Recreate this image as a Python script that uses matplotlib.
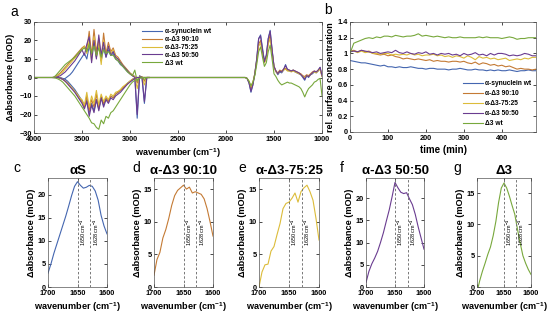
import numpy as np
import matplotlib
matplotlib.use('Agg')
import matplotlib.pyplot as plt

plt.rcParams['font.family'] = ['Liberation Sans', 'DejaVu Sans']
plt.rcParams['mathtext.fontset'] = 'custom'
plt.rcParams['mathtext.rm'] = 'Liberation Sans:bold'
plt.rcParams['mathtext.bf'] = 'Liberation Sans:bold'
plt.rcParams['mathtext.default'] = 'bf'

names = ['α-synuclein wt', 'α-Δ3 90:10', 'α-Δ3-75:25', 'α-Δ3 50:50', 'Δ3 wt']
colors = ['#4466b0', '#c47a34', '#dcbc3a', '#6a3c90', '#78a83c']

# ---- panel a: difference spectra ----
wn_left = [4000, 3900]
wn_oh = np.arange(3800, 2799, -25)
wn_mid = [2700, 2400, 2100, 1900]
wn_am = np.arange(1800, 999, -20)
flat_left = [0.0, 0.0]
flat_mid = [0.0, 0.0, 0.0, 0.0]

blue_oh = [0, 0, 0, -0.5, -1, -0.5, 0.5, 1.5, 3, 5, 7, 9, 11, 13, 10, 17, 12, 20, 11, 18, 9, 16, 11, 15, 12,
           13, 10, 9, 7, 6, 4.5, 3, 2, 1, 0.5, -22, 0.5, 0, -14, 0, 0]
orange_oh = [0, 0.5, 1.5, 2.5, 4, 5.5, 7, 8.5, 10, 11.5, 13, 14.5, 16, 17, 15, 25, 12, 26, 14, 21, 9, 24, 13, 19, 14,
             16, 12, 11, 9, 7, 5.5, 4, 2.5, 1.5, 0.5, -3, 0, 0.5, -2, 0, 0]
yellow_oh = [0, 0.3, 1, 2, 3, 4.5, 6, 7.5, 9, 10.5, 12, 13.5, 15, 17, 13, 20, 9, 22, 11, 18, 7, 20, 12, 17, 13,
             15, 11, 10, 8, 6.5, 5, 3.5, 2, 1, 0.5, -6, 0.5, 0, -4, 0, 0]
purple_oh = [0, 0, 0.5, 1, 2, 3, 4.5, 6, 7.5, 9, 11, 13, 15, 12, 18, 22, 8, 20, 10, 23, 12, 19, 11, 17, 12,
             14, 11, 10, 8, 6.5, 5, 3.5, 2, 1, 0, -20, 1, 0, -13, 0, 0]
green_oh = [0, 1, 2.5, 4, 5.5, 7, 8, 9, 10, 11, 12.5, 14, 15, 16, 14, 18, 13, 17, 12, 16, 11, 15, 13, 14, 12,
            12, 10, 9, 7.5, 6, 4.5, 3, 2, 1, 4, -2, 0.5, 0, -1, 0, 0]

blue_oh_neg = [0, 0, 0, 0, -0.5, -1, -2, -3.5, -5, -6.5, -8.5, -10.5, -12.5, -15, -12, -19, -14, -18, -12, -17,
               -11, -15, -11, -13, -10, -11, -9, -8, -7, -6, -4.5, -3, -2, -1, -0.5, 0, 0, 0, 0, 0, 0]
orange_oh_neg = [0, 0, 0, -0.3, -1, -2, -3, -4.5, -6, -7.5, -9.5, -11.5, -13, -16, -10, -18, -12, -16, -9, -17,
                 -10, -14, -11, -13, -10, -11, -9, -8, -7, -5.5, -4.5, -3.5, -2, -1, -0.5, 0, 0, 0, 0, 0, 0]
yellow_oh_neg = [0, 0, 0, -0.3, -1, -2, -3, -4.5, -6, -7.5, -9, -11, -12, -15, -8, -16, -10, -14, -7, -15,
                 -9, -13, -10, -12, -9, -10, -8, -7.5, -6.5, -5, -4, -3, -2, -1, -0.5, 0, 0, 0, 0, 0, 0]
purple_oh_neg = [0, 0, 0, -0.3, -1, -2, -3.5, -5, -6.5, -8, -10, -12, -14, -17, -13, -21, -15, -19, -12, -18,
                 -11, -16, -12, -14, -11, -12, -10, -9, -8, -6.5, -5, -3.5, -2.5, -1.5, -0.5, 0, 0, 0, 0, 0, 0]
green_oh_neg = [0, -0.3, -0.8, -1.5, -2.5, -4, -5.5, -7, -8.5, -10, -12, -14, -16, -18, -20, -22, -24.5, -25, -27,
                -28, -23, -25, -21, -22, -19, -18, -16, -14, -12, -10, -8, -6, -4, -2.5, -1.5, -1, -0.5, 0, 0, 0, 0]

blue_am = [0, -0.5, -3, -8, -4, 2, 10, 21, 23, 16, 9, 12, 21, 25.5, 15, 6, 3.5, 1.5, 3, 2.5, 4, 7, 4, 3.5, 3.5,
           4, 3, 2.5, 2, 1.5, 0, -1.5, 1, 0, 1.5, 2, 3, 2.5, 3.5, 5.5, 0.5]
orange_am = [0, -0.5, -2.5, -6, -3, 2, 9, 18, 20, 14, 8, 11, 19, 23, 14, 6, 3.5, 2.5, 4, 3.5, 4.5, 5, 4, 4, 3.5,
             4, 3.5, 3, 2.5, 2, 1, 0.5, 1.5, 1, 2, 3, 3.5, 3, 4, 5, 1]
yellow_am = [0, -0.5, -2, -5, -2.5, 2, 9, 17, 18.5, 13, 8, 10.5, 18, 21, 13, 5.5, 3, 2, 3.5, 3, 4, 4.5, 3.5, 3.5, 3,
             3.5, 3, 2.5, 2, 1.5, 0.5, 0, 1, 0.5, 1.5, 2.5, 3, 2.5, 3.5, 4.5, 0.5]
purple_am = [0, -0.5, -3, -7.5, -4, 2, 10, 21, 22.5, 15, 8.5, 12, 21, 25, 15, 6, 3.5, 2, 3.5, 3, 4.5, 6.5, 4.5, 4,
             3.5, 4, 3.5, 3, 2.5, 1.5, 0.5, -1, 1, 0.5, 1.5, 2.5, 3.5, 3, 4, 5.5, 1]
green_am = [0, -0.5, -2, -4.5, -2.5, 1, 7, 14, 16.5, 11, 6, 8, 14, 17.5, 10, 2, 0.5, -1.5, -3, -4, -3.5, -3, -2.5,
            -3, -3, -3.5, -4, -4.5, -5, -6, -8, -10.5, -8, -6, -5, -4, -2.5, -2, -1, -0.5, -10]

oh_pos = [blue_oh, orange_oh, yellow_oh, purple_oh, green_oh]
oh_neg = [blue_oh_neg, orange_oh_neg, yellow_oh_neg, purple_oh_neg, green_oh_neg]
amide = [blue_am, orange_am, yellow_am, purple_am, green_am]

# ---- panel b: surface concentration vs time ----
time_min = np.arange(0, 491, 10)
blue_t = [0.91, 0.90, 0.89, 0.88, 0.88, 0.87, 0.86, 0.85, 0.84, 0.85, 0.83, 0.83, 0.82, 0.83, 0.82, 0.82, 0.83,
          0.82, 0.81, 0.81, 0.80, 0.81, 0.81, 0.80, 0.80, 0.80, 0.79, 0.80, 0.80, 0.81, 0.80, 0.79, 0.79, 0.80,
          0.79, 0.79, 0.78, 0.79, 0.78, 0.79, 0.78, 0.78, 0.79, 0.78, 0.77, 0.78, 0.78, 0.79, 0.78, 0.78]
orange_t = [1.03, 1.04, 1.02, 1.04, 1.02, 1.03, 1.00, 0.99, 0.98, 0.99, 0.97, 0.98, 0.96, 0.95, 0.93, 0.94, 0.93,
            0.92, 0.93, 0.92, 0.91, 0.92, 0.90, 0.91, 0.90, 0.90, 0.89, 0.90, 0.90, 0.89, 0.90, 0.88, 0.87, 0.89,
            0.86, 0.88, 0.87, 0.85, 0.86, 0.84, 0.85, 0.83, 0.84, 0.82, 0.80, 0.81, 0.80, 0.80, 0.79, 0.80]
yellow_t = [1.02, 1.03, 1.01, 1.03, 1.01, 1.02, 1.00, 1.00, 0.99, 1.00, 1.00, 0.98, 0.99, 0.98, 0.99, 0.98, 1.00,
            0.98, 0.99, 0.97, 0.98, 0.98, 0.99, 0.97, 0.98, 0.96, 0.97, 0.95, 0.97, 0.96, 0.94, 0.97, 0.95, 0.92,
            0.96, 0.94, 0.95, 0.93, 0.94, 0.92, 0.93, 0.94, 0.91, 0.92, 0.93, 0.92, 0.94, 0.93, 0.95, 0.95]
purple_t = [1.02, 1.03, 1.02, 1.04, 1.03, 1.02, 1.01, 1.02, 1.00, 1.01, 1.02, 1.01, 1.04, 1.01, 1.00, 1.02, 1.00,
            0.99, 1.01, 1.00, 1.02, 0.99, 1.00, 0.98, 1.00, 0.99, 1.00, 0.98, 0.99, 0.97, 1.00, 0.98, 0.99, 1.01,
            0.98, 0.99, 0.97, 1.00, 0.98, 1.00, 1.00, 0.99, 0.97, 0.98, 0.97, 0.98, 1.00, 0.99, 0.97, 0.97]
green_t = [1.00, 1.13, 1.15, 1.17, 1.19, 1.20, 1.19, 1.21, 1.20, 1.22, 1.22, 1.21, 1.23, 1.22, 1.21, 1.22, 1.22,
           1.23, 1.25, 1.22, 1.23, 1.22, 1.21, 1.22, 1.21, 1.20, 1.21, 1.20, 1.20, 1.21, 1.20, 1.20, 1.20, 1.20,
           1.21, 1.20, 1.21, 1.20, 1.20, 1.20, 1.19, 1.20, 1.21, 1.20, 1.18, 1.19, 1.19, 1.20, 1.20, 1.20]
conc = [blue_t, orange_t, yellow_t, purple_t, green_t]

# ---- panels c-g: amide I band ----
wn_band = np.arange(1700, 1599, -5)
band_as = [3.0, 5.0, 7.3, 9.3, 11.3, 13.3, 15.3, 17.5, 19.8, 21.8, 22.8, 22.0, 21.4, 21.6, 22.0, 21.8, 20.8, 18.8,
           15.5, 13.2, 11.5]
band_9010 = [1.8, 4.2, 5.3, 7.5, 8.8, 10.5, 12.5, 14.0, 14.8, 15.2, 15.6, 15.0, 15.3, 14.4, 14.6, 14.4, 14.2, 13.5,
             12.0, 10.0, 7.8]
band_7525 = [0.0, 2.3, 3.4, 3.5, 5.5, 6.2, 8.0, 9.7, 12.0, 12.8, 13.0, 13.6, 14.4, 13.0, 14.6, 15.2, 15.6, 14.6,
             13.3, 10.5, 7.2]
band_5050 = [1.0, 3.5, 5.2, 6.5, 8.0, 10.0, 12.2, 14.8, 17.3, 20.3, 23.5, 22.3, 21.3, 21.0, 21.2, 19.8, 18.5, 16.3,
             13.5, 11.0, 8.5]
band_d3 = [-0.8, 1.0, 2.5, 3.8, 5.2, 6.4, 8.2, 10.5, 13.5, 15.8, 16.6, 15.8, 14.5, 13.0, 11.6, 9.2, 7.0, 5.0, 3.8,
           2.8, 2.0]
bands = [band_as, band_9010, band_7525, band_5050, band_d3]
band_titles = ['αS', 'α-Δ3 90:10', 'α-Δ3-75:25', 'α-Δ3 50:50', 'Δ3']
band_letters = ['c', 'd', 'e', 'f', 'g']
band_ytop = [23.6, 16.7, 16.7, 24.5, 17.4]
marker_wn = [1650, 1628]

W, H = 550, 324
fig = plt.figure(figsize=(W / 100, H / 100), dpi=100)


def px_axes(left, top, right, bottom):
    return fig.add_axes([left / W, 1 - bottom / H, (right - left) / W, (bottom - top) / H])


def style(ax, size=5.3):
    ax.tick_params(direction='in', length=2, width=0.5, top=True, right=True, labelsize=size, pad=1.5)
    ax.tick_params(axis='x', pad=2.5)
    for lab in ax.get_xticklabels() + ax.get_yticklabels():
        lab.set_fontweight('bold')
    for s in ax.spines.values():
        s.set_linewidth(0.5)
        s.set_color('#555555')


# panel a
ax = px_axes(34, 22, 322, 133)
x_full = np.concatenate([wn_left, wn_oh, wn_mid, wn_am])
handles = []
for i in range(5):
    y_full = np.concatenate([flat_left, oh_pos[i], flat_mid, amide[i]])
    h, = ax.plot(x_full, y_full, color=colors[i], lw=0.8, label=names[i])
    handles.append(h)
for i in range(5):
    ax.plot(wn_oh, oh_neg[i], color=colors[i], lw=0.8)
ax.set_xlim(4000, 1000)
ax.set_ylim(-30, 30)
ax.set_xticks([4000, 3500, 3000, 2500, 2000, 1500, 1000])
ax.set_yticks([-30, -20, -10, 0, 10, 20, 30])
style(ax)
ax.set_xlabel('wavenumber (cm$^{-1}$)', fontsize=6.5, fontweight='bold', labelpad=2)
ax.set_ylabel('Δabsorbance (mOD)', fontsize=6.5, fontweight='bold', labelpad=3)
ax.legend(handles=handles, loc='upper left', bbox_to_anchor=(0.36, 0.985), frameon=False,
          prop={'size': 4.8, 'weight': 'bold'},
          handlelength=3, labelspacing=0.12, handletextpad=0.4, borderpad=0.2)
fig.text(10 / W, 1 - 12 / H, 'a', fontsize=10, va='center', ha='left')

# panel b
ax = px_axes(350, 22, 536, 132)
for i in range(5):
    ax.plot(time_min, conc[i], color=colors[i], lw=0.8, label=names[i])
ax.set_xlim(0, 490)
ax.set_ylim(0, 1.4)
ax.set_xticks([0, 100, 200, 300, 400])
ax.set_yticks([0, 0.2, 0.4, 0.6, 0.8, 1.0, 1.2, 1.4])
ax.set_yticklabels(['0', '0.2', '0.4', '0.6', '0.8', '1', '1.2', '1.4'])
style(ax)
ax.set_xlabel('time (min)', fontsize=7, fontweight='bold', labelpad=2)
ax.set_ylabel('rel. surface concentration', fontsize=6.4, fontweight='bold', labelpad=2)
ax.legend(loc='lower right', frameon=False, prop={'size': 4.8, 'weight': 'bold'}, handlelength=3,
          labelspacing=0.45, handletextpad=0.4, borderpad=0.2)
fig.text(324 / W, 1 - 10 / H, 'b', fontsize=10, va='center', ha='left')

# panels c-g
band_boxes = [(48, 107), (154, 213), (259, 319), (366, 424), (477, 531)]
letter_x = [13, 132, 238, 340, 453]
for i in range(5):
    l, r = band_boxes[i]
    ax = px_axes(l, 178, r, 287)
    ax.plot(wn_band, bands[i], color=colors[i], lw=0.8)
    for m in marker_wn:
        ax.axvline(m, color='#777777', ls='--', lw=0.7, dashes=(2.5, 2))
        ax.text(m - 1.5, 0.5, f'{m} cm$^{{-1}}$', transform=ax.get_xaxis_transform(), rotation=90,
                fontsize=4, ha='left', va='center')
    ax.set_xlim(1700, 1600)
    ax.set_ylim(0, band_ytop[i])
    ax.set_xticks([1700, 1650, 1600])
    ax.set_yticks(np.arange(0, band_ytop[i], 5))
    style(ax)
    ax.set_xlabel('wavenumber (cm$^{-1}$)', fontsize=6.6, fontweight='bold', labelpad=2)
    ax.set_ylabel('Δabsorbance (mOD)', fontsize=6.6, fontweight='bold', labelpad=1)
    ax.set_title(band_titles[i], fontsize=9.5, fontweight='bold', pad=3)
    fig.text(letter_x[i] / W, 1 - 168 / H, band_letters[i], fontsize=10, va='center', ha='left')

fig.savefig('out.png', dpi=100)
